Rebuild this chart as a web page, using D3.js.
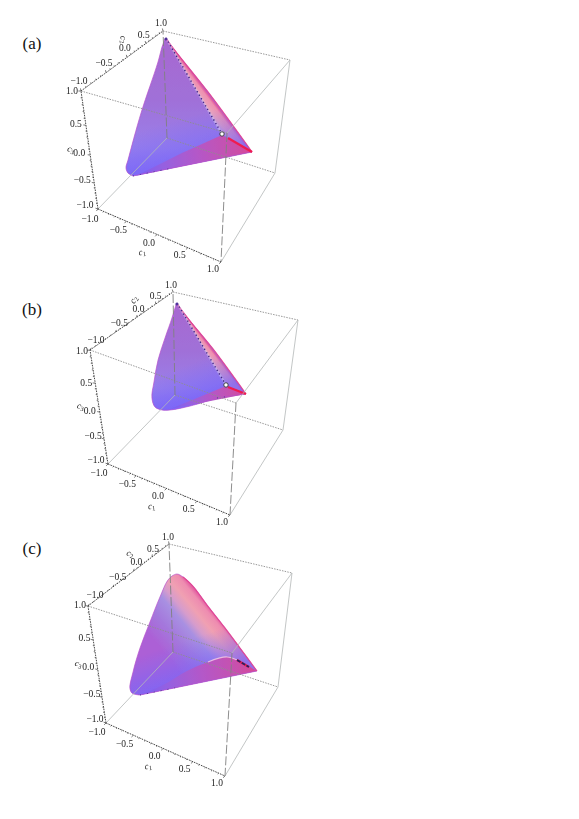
<!DOCTYPE html><html><head><meta charset="utf-8"><script src="https://cdn.jsdelivr.net/npm/d3@7"></script>
<style>html,body{margin:0;background:#fff}svg{display:block}text{font-family:"Liberation Serif","Times New Roman",serif;fill:#222}</style></head><body><svg id="chart" width="579" height="819"></svg><script>
// Axis values
const majorTicks=[-1,-0.5,0,0.5,1];
const minorTicks=[-0.9,-0.8,-0.7,-0.6,-0.4,-0.3,-0.2,-0.1,0.1,0.2,0.3,0.4,0.6,0.7,0.8,0.9];
const tickLabels=["\u22121.0","\u22120.5","0.0","0.5","1.0"];
const panelNames=["(a)","(b)","(c)"];
// Surface curves, [c1,c3] read on the face plane c2 = c1 + c3 + 1
const outlineA=[[0.592,-0.684],[-0.224,0.143],[-0.865,0.82],[-0.936,0.904],[-0.938,0.834],[-0.908,0.617],[-0.872,0.033],[-0.836,-0.494],[-0.83,-0.582],[-0.791,-0.641],[-0.727,-0.681]];
const lowerA=[[0.137,-0.401],[-0.262,-0.511],[-0.545,-0.622],[-0.705,-0.684]];
const ringA=[[0.132,-0.389]];
const redA=[[0.224,-0.452],[0.592,-0.684]];
const outlineB=[[0.336,-0.458],[-0.277,0.178],[-0.845,0.774],[-0.902,0.846],[-0.897,0.784],[-0.88,0.66],[-0.859,0.417],[-0.836,0.155],[-0.788,-0.107],[-0.747,-0.295],[-0.679,-0.406],[-0.59,-0.453],[-0.501,-0.467],[-0.288,-0.459],[-0.004,-0.426]];
const lowerB=[[0.051,-0.306],[-0.241,-0.379],[-0.505,-0.455]];
const ringB=[[0.046,-0.294]];
const redB=[[0.08,-0.324],[0.336,-0.458]];
const outlineC=[[0.634,-0.746],[0.306,-0.431],[0.019,-0.148],[-0.293,0.163],[-0.557,0.44],[-0.694,0.559],[-0.774,0.608],[-0.819,0.594],[-0.845,0.553],[-0.858,0.363],[-0.864,0.083],[-0.873,-0.204],[-0.864,-0.467],[-0.84,-0.654],[-0.805,-0.702],[-0.708,-0.736]];
const lowerC=[[-0.708,-0.736],[-0.48,-0.663],[-0.252,-0.554],[-0.035,-0.501],[0.18,-0.495],[0.321,-0.558],[0.634,-0.746]];
const ringC=[];
const redC=[[0.321,-0.558],[0.509,-0.675]];

// Layout: where the eight cube corners land on the page, per panel
const layouts=[
 {label:[32,43],ring:ringA,red:redA,out:outlineA,low:lowerA,
  corners:{mmp:[81,91],mpp:[163,31],ppp:[290,60],pmp:[227,133],mmm:[98,209],pmm:[221,262],mpm:[167,138],ppm:[275,173]},
  off:{c1:[[-8,10],[-8,7]],c2:[[-2,-10],[-2,-8]],c3:[[-13,-4],[-9,0]]},rot:{c1:-10,c2:80,c3:20}},
 {label:[32,309],ring:ringB,red:redB,out:outlineB,low:lowerB,
  corners:{mmp:[90,350],mpp:[173,292],ppp:[298,320],pmp:[236,403],mmm:[108,464],pmm:[230,515],mpm:[175,395],ppm:[283,430]},
  off:{c1:[[-9,9],[-8,7]],c2:[[6,-10],[-2,-7]],c3:[[-12,-4],[-8,1]]},rot:{c1:-5,c2:-60,c3:15}},
 {label:[32,548],ring:ringC,red:redC,out:outlineC,low:lowerC,
  corners:{mmp:[88,606],mpp:[169,544],ppp:[292,573],pmp:[232,653],mmm:[106,723],pmm:[225,776],mpm:[173,652],ppm:[278,687]},
  off:{c1:[[-9,9],[-8,7]],c2:[[7,-11],[-1,-7]],c3:[[-11,-4],[-8,-1]]},rot:{c1:-10,c2:15,c3:20}}
];
const svg=d3.select("#chart");
const defs=svg.append("defs");
defs.append("filter").attr("id","soft").attr("x","-5%").attr("y","-5%").attr("width","110%").attr("height","110%")
  .append("feGaussianBlur").attr("stdDeviation",0.3);
defs.append("filter").attr("id","fine").attr("filterUnits","userSpaceOnUse").attr("x",0).attr("y",0).attr("width",579).attr("height",819)
  .append("feGaussianBlur").attr("stdDeviation",0.32);
const unit=d3.scaleLinear().domain([-1,1]).range([0,1]);
// Axis spacing along each labelled edge (foreshortening), fraction from −1 to +1
const axisFrac={
 c1:d3.scaleLinear().domain(majorTicks).range([0,0.23,0.48,0.73,1]),
 c2:d3.scaleLinear().domain(majorTicks).range([0,0.305,0.56,0.79,1]),
 c3:d3.scaleLinear().domain(majorTicks).range([0,0.22,0.456,0.71,1])};
function gradient(id,p0,p1,stops){
  const g=defs.append("linearGradient").attr("id",id).attr("gradientUnits","userSpaceOnUse")
   .attr("x1",p0[0]).attr("y1",p0[1]).attr("x2",p1[0]).attr("y2",p1[1]);
  stops.forEach(s=>g.append("stop").attr("offset",s[0]).attr("stop-color",s[1]).attr("stop-opacity",s[2]===undefined?1:s[2]));
  return `url(#${id})`;
}
layouts.forEach((L,pi)=>{
  const K=L.corners;
  function project(c1,c2,c3){
    const a=unit(c1),b=unit(c2),c=unit(c3);
    const lerp=(p,q,t)=>[p[0]+(q[0]-p[0])*t,p[1]+(q[1]-p[1])*t];
    const bottom=lerp(lerp(K.mmm,K.pmm,a),lerp(K.mpm,K.ppm,a),b);
    const top=lerp(lerp(K.mmp,K.pmp,a),lerp(K.mpp,K.ppp,a),b);
    return lerp(bottom,top,c);
  }
  const onFace=d=>project(d[0],d[0]+d[1]+1,d[1]);
  const g=svg.append("g").attr("filter","url(#fine)");
  const out=L.out.map(onFace),low=L.low.map(onFace);
  const right=out[0];
  const apex=pi<2?out[3]:out[6];
  const path=d3.line().curve(d3.curveCatmullRom.alpha(0.7));
  const outlineD=path(out)+"Z";
  const [xMin,xMax]=d3.extent(out,d=>d[0]),[yMin,yMax]=d3.extent(out,d=>d[1]);
  const surf=g.append("g").attr("filter","url(#soft)");
  // unit normal to the right edge, pointing into the surface (down-left)
  const ex=right[0]-apex[0],ey=right[1]-apex[1],len=Math.hypot(ex,ey),nx=-ey/len,ny=ex/len;
  const ringPts=L.ring.map(onFace);
  if(pi<2){
    surf.append("path").attr("d",outlineD).attr("fill",gradient("base"+pi,[xMin,yMin],[xMin,yMax],
      [[0,"#a868d0"],[0.45,"#a070d8"],[0.8,"#9a80ea"],[1,"#8a72f4"]]));
    const ring=ringPts[0];
    const w=(ring[0]-apex[0])*nx+(ring[1]-apex[1])*ny;
    surf.append("path").attr("d",d3.line()([apex,right,ring])+"Z")
      .attr("fill",gradient("strip"+pi,[ring[0]-nx*w,ring[1]-ny*w],ring,
      [[0,"#e0509c"],[0.2,"#ee90b0"],[0.65,"#eaa4bc"],[1,"#c8a4e0"]]));
  } else {
    const mid=[(apex[0]+right[0])/2-nx*5,(apex[1]+right[1])/2-ny*5];
    surf.append("path").attr("d",outlineD).attr("fill",gradient("base"+pi,mid,[mid[0]+nx*65,mid[1]+ny*65],
      [[0,"#e0509c"],[0.08,"#ee8cb0"],[0.22,"#f0a0b2"],[0.36,"#d69ccc"],[0.48,"#a890e2"],[0.72,"#a478dc"],[1,"#ac60d6"]]));
  }
  // Bluer tint toward the bottom-left rounded corner
  surf.append("path").attr("d",outlineD).attr("fill",gradient("tint"+pi,[xMin,yMin+(yMax-yMin)*0.7],[xMin+12,yMax],
    [[0,"#7a6cf8",0],[1,"#7a66f8",0.8]]));
  // Lower sheet
  const lowD=pi===2?path(low)+"Z":d3.line()([right,...low])+"Z";
  surf.append("path").attr("d",lowD).attr("fill",gradient("low"+pi,low[pi===2?0:low.length-1],right,
    [[0,"#7860f4"],[0.25,"#9660e0"],[0.55,"#b458c8"],[0.85,"#c850ac"],[1,"#d84896"]]));
  surf.append("path").attr("d",outlineD).attr("fill","none").attr("stroke","#b850cc").attr("stroke-width",0.9).attr("opacity",0.75);
  surf.append("path").attr("d",path(out.slice(0,pi<2?4:6))).attr("fill","none").attr("stroke","#e4408c").attr("stroke-width",1.2).attr("opacity",0.85);
  if(pi===2){
    g.append("path").attr("d",path(low.slice(3,6))).attr("fill","none").attr("stroke","#ffd6e4").attr("stroke-width",1.2).attr("opacity",0.75);
  }
  // Singular edge and dotted crease
  ringPts.forEach(ring=>{
    g.append("line").attr("x1",apex[0]).attr("y1",apex[1]).attr("x2",ring[0]).attr("y2",ring[1]).attr("stroke","#dcd4f4").attr("stroke-width",2.2).attr("opacity",0.4);
    g.append("line").attr("x1",apex[0]).attr("y1",apex[1]).attr("x2",ring[0]).attr("y2",ring[1]).attr("stroke","#44288a").attr("stroke-width",1.5).attr("stroke-dasharray","1.3 2.8");
    g.append("circle").attr("cx",apex[0]).attr("cy",apex[1]+1).attr("r",1.5).attr("fill","#50309a");
  });
  const red=L.red.map(onFace);
  g.append("path").attr("d",d3.line()(red)).attr("stroke","#f01c50").attr("stroke-width",2.2).attr("fill","none");
  if(pi===2) g.append("path").attr("d",d3.line()(red)).attr("stroke","#2a2060").attr("stroke-width",1.8).attr("stroke-dasharray","4 1.5").attr("fill","none");
  // Dots along the bottom rim
  const rim=out[out.length-1];
  g.append("path").attr("d",d3.line()([rim,[rim[0]+(right[0]-rim[0])*0.3,rim[1]+(right[1]-rim[1])*0.3]]))
    .attr("stroke","#40308a").attr("stroke-width",0.9).attr("stroke-dasharray","1 6").attr("fill","none");
  ringPts.forEach(r=>g.append("circle").attr("cx",r[0]).attr("cy",r[1]).attr("r",2.2).attr("fill","#fff").attr("stroke","#333").attr("stroke-width",0.9));

  // Box edges
  const edge=(p,q,stroke,w,dash)=>{const l=g.append("line").attr("x1",p[0]).attr("y1",p[1]).attr("x2",q[0]).attr("y2",q[1]).attr("stroke",stroke).attr("stroke-width",w);if(dash)l.attr("stroke-dasharray",dash);};
  const boxStyle={dot:["#8d8d8d",0.9,"1.5 1.2"],thin:["#b4b8b8",0.8,null],dash:["#808080",0.9,"9 2.5"]};
  [["mmp","pmp","dot"],["mpp","ppp","dot"],["pmp","ppp","thin"],["ppm","ppp","thin"],["mpm","ppm","dot"],
   ["mpm","mmm","thin"],["ppm","pmm","thin"],["mpm","mpp","dash"],["pmp","pmm","dash"]]
   .forEach(e=>edge(K[e[0]],K[e[1]],...boxStyle[e[2]]));
  // Labelled axes
  const axisEnds={c1:[K.mmm,K.pmm],c2:[K.mmp,K.mpp],c3:[K.mmm,K.mmp]};
  const names={c1:"1",c2:"2",c3:"3"};
  const titleOff={c1:[-15,17.5],c2:[-3,-18],c3:[-19,-6]};
  Object.keys(axisEnds).forEach(ax=>{
    const [p,q]=axisEnds[ax];
    const at=v=>{const f=axisFrac[ax](v);return [p[0]+(q[0]-p[0])*f,p[1]+(q[1]-p[1])*f];};
    edge(p,q,"#333",0.9,"1.6 1");
    const [o0,o1]=L.off[ax];
    const offAt=v=>{const t=unit(v);return [o0[0]+(o1[0]-o0[0])*t,o0[1]+(o1[1]-o0[1])*t];};
    const tick=(v,n)=>{const a=at(v),o=offAt(v),m=Math.hypot(o[0],o[1])||1;edge(a,[a[0]+o[0]/m*n,a[1]+o[1]/m*n],"#444",0.7);};
    majorTicks.forEach(v=>tick(v,2.6));
    minorTicks.forEach(v=>tick(v,1.3));
    majorTicks.forEach((v,i)=>{
      const a=at(v),o=offAt(v);
      g.append("text").attr("x",a[0]+o[0]).attr("y",a[1]+o[1]).attr("text-anchor","middle").attr("dominant-baseline","central")
       .attr("font-size",9.5).text(tickLabels[i]);
    });
    const a0=at(0),to=titleOff[ax],tx=a0[0]+to[0],ty=a0[1]+to[1];
    const t=g.append("text").attr("transform",`translate(${tx},${ty}) rotate(${L.rot[ax]})`).attr("text-anchor","middle").attr("dominant-baseline","central")
      .attr("font-size",9).attr("font-style","italic");
    t.append("tspan").text("c");
    t.append("tspan").attr("font-size",6.5).attr("dy",1.5).attr("font-style","normal").text(names[ax]);
  });
  svg.append("text").attr("x",L.label[0]).attr("y",L.label[1]).attr("text-anchor","middle").attr("dominant-baseline","central")
    .attr("font-size",17).style("fill","#111").text(panelNames[pi]);
});
</script></body></html>
